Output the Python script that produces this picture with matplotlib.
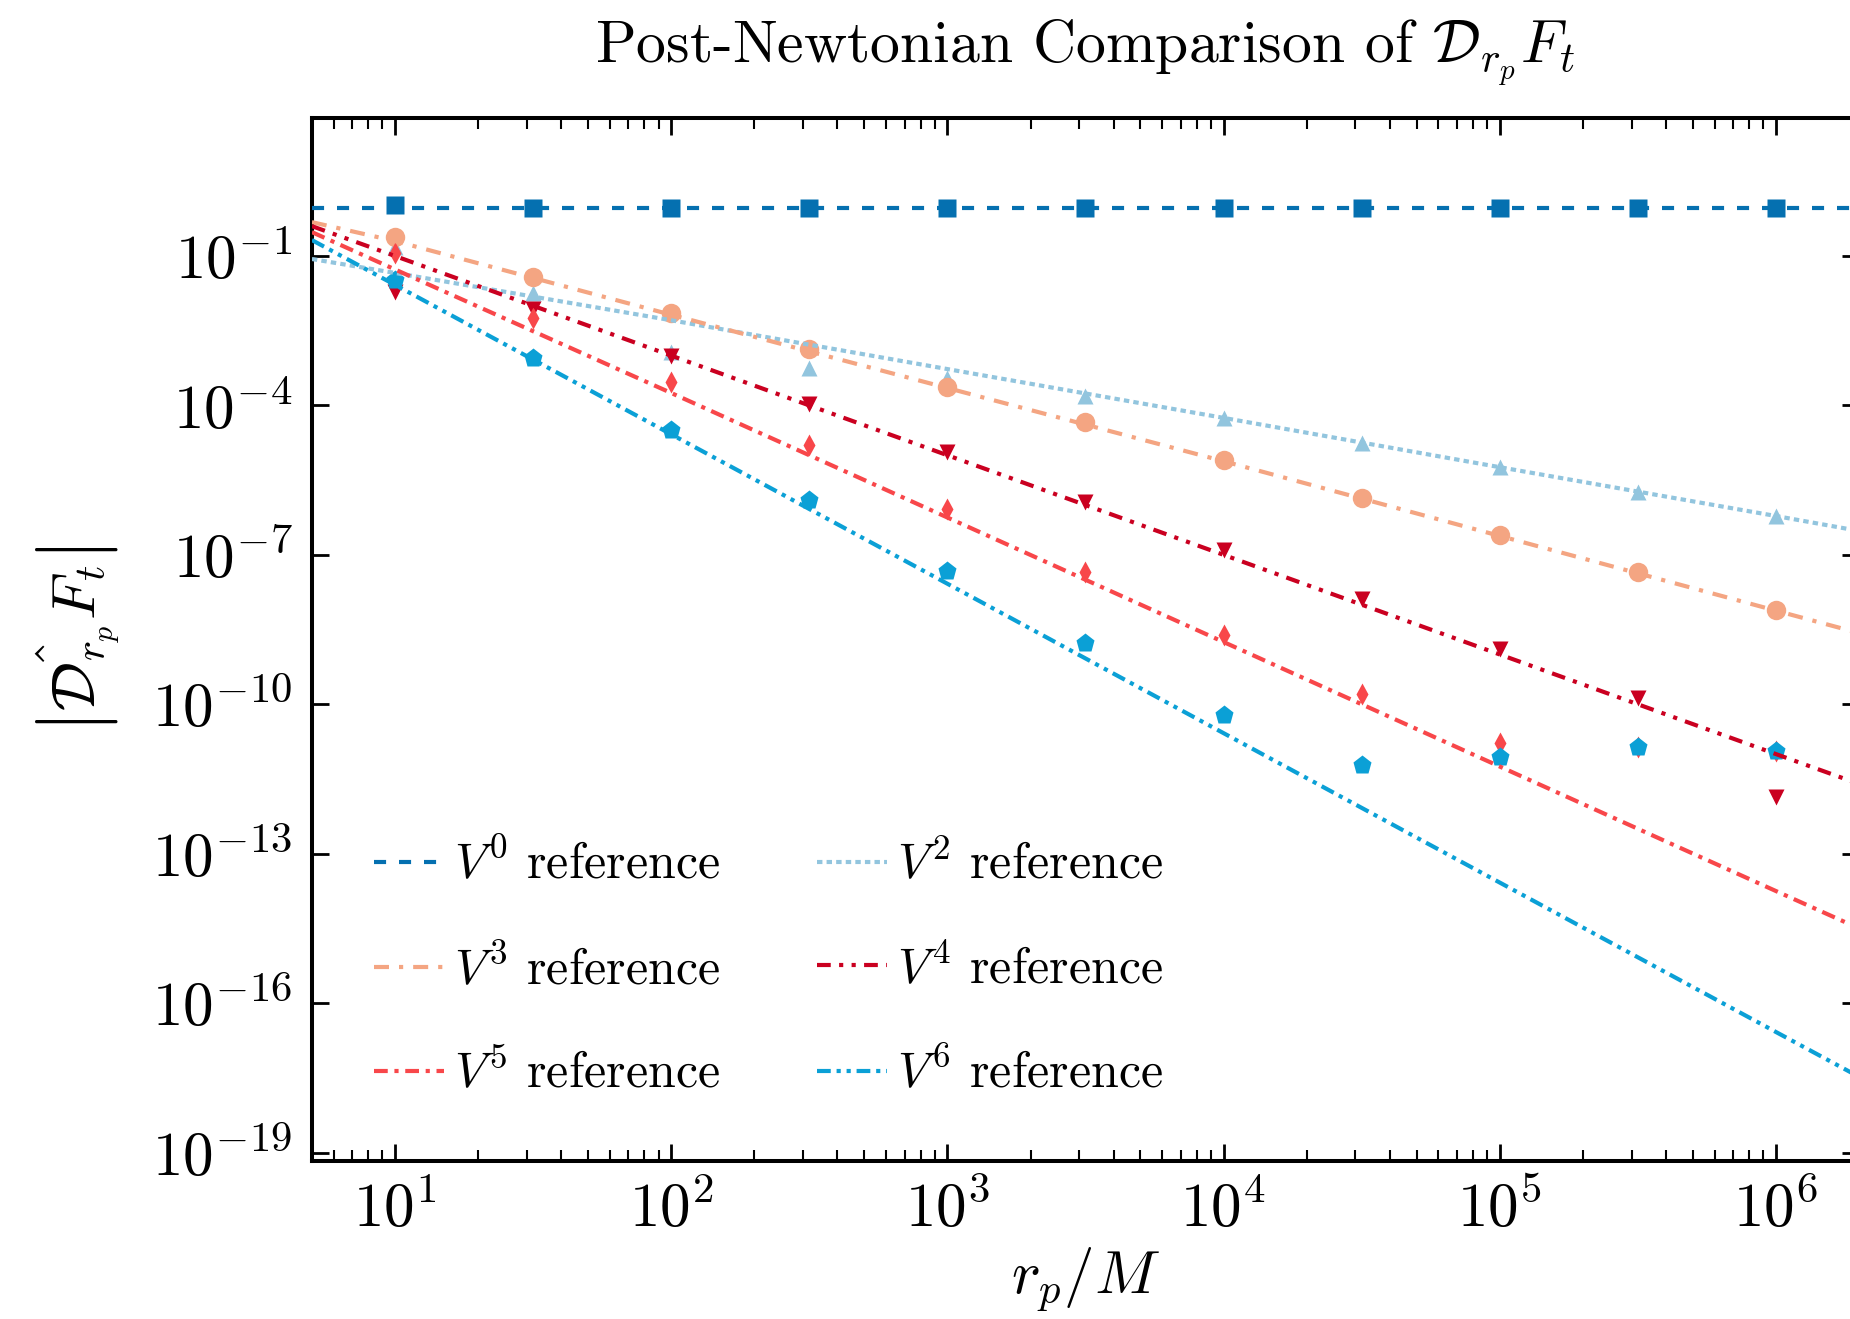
import numpy as np
import matplotlib
matplotlib.use('Agg')
import matplotlib.pyplot as plt
import matplotlib.ticker as ticker

# fonts (computer modern look)
plt.rcParams['font.family'] = 'serif'
plt.rcParams['font.serif'] = ['cmr10']
plt.rcParams['mathtext.fontset'] = 'cm'
plt.rcParams['axes.formatter.use_mathtext'] = True
plt.rcParams['axes.unicode_minus'] = False

# r_p/M where the data points sit
r_pts = [10, 31.6, 100, 316, 1e3, 3.16e3, 1e4, 3.16e4, 1e5, 3.16e5, 1e6]
# r_p/M where the reference lines are sampled
r_line = [5, 10, 100, 1e3, 1e4, 1e5, 1e6, 2e6]

# log10 of the reference curves
v0_line = [-0.04, -0.04, -0.04, -0.04, -0.04, -0.04, -0.04, -0.04]
v2_line = [-1.06, -1.34, -2.29, -3.27, -4.25, -5.24, -6.22, -6.52]
v3_line = [-0.32, -0.70, -2.18, -3.65, -5.12, -6.62, -8.12, -8.57]
v4_line = [-0.40, -1.00, -3.00, -5.00, -7.00, -9.00, -11.00, -11.60]
v5_line = [-0.52, -1.27, -3.75, -6.25, -8.75, -11.25, -13.75, -14.50]
v6_line = [-0.68, -1.58, -4.58, -7.58, -10.58, -13.58, -16.58, -17.48]

# log10 of the numerical points
v0_pts = [0.02, -0.04, -0.04, -0.04, -0.04, -0.04, -0.04, -0.04, -0.04, -0.04, -0.04]
v2_pts = [-0.82, -1.74, -2.93, -3.25, -3.45, -3.81, -4.25, -4.76, -5.24, -5.74, -6.22]
v3_pts = [-0.62, -1.42, -2.14, -2.87, -3.63, -4.34, -5.10, -5.86, -6.60, -7.35, -8.11]
v4_pts = [-1.72, -2.06, -3.00, -3.97, -4.94, -5.93, -6.90, -7.89, -8.90, -9.88, -11.86]
v5_pts = [-0.94, -2.25, -3.53, -4.79, -6.08, -7.35, -8.61, -9.80, -10.77, -10.86, -10.94]
v6_pts = [-1.48, -3.05, -4.49, -5.90, -7.33, -8.77, -10.22, -11.22, -11.06, -10.86, -10.94]

labels = [r'$V^0$ reference', r'$V^2$ reference', r'$V^3$ reference',
          r'$V^4$ reference', r'$V^5$ reference', r'$V^6$ reference']
colors = ['#0570b0', '#92c5de', '#f4a582', '#ca0020', '#f8474a', '#0ba0d6']
markers = ['s', '^', 'o', 'v', 'd', 'p']
msizes = [13, 12, 14, 12, 11, 14]
dashes = [(2.9, 3.1),
          (1.3, 1.0),
          (3.6, 2.4, 1.0, 2.4),
          (3.3, 2.0, 1.0, 2.0, 1.0, 2.0),
          (3.3, 1.6, 1.0, 1.6),
          (3.3, 1.4, 1.0, 1.4, 1.0, 1.4)]

lines = [v0_line, v2_line, v3_line, v4_line, v5_line, v6_line]
points = [v0_pts, v2_pts, v3_pts, v4_pts, v5_pts, v6_pts]

fig = plt.figure(figsize=(18.5, 13.19), dpi=100)
ax = fig.add_axes([0.1686, 0.1198, 0.8363, 0.7907])

handles = []
for i in range(6):
    ax.plot(r_pts, 10 ** np.array(points[i]), ls='none', marker=markers[i],
            ms=msizes[i], color=colors[i], mec='none', zorder=2)
    h, = ax.plot(r_line, 10 ** np.array(lines[i]), color=colors[i], lw=3,
                 dashes=dashes[i], label=labels[i], zorder=3)
    handles.append(h)

ax.set_xscale('log')
ax.set_yscale('log')
ax.set_xlim(5, 2e6)
ax.set_ylim(10 ** -19.17, 10 ** 1.77)

ax.yaxis.set_major_locator(ticker.FixedLocator([10.0 ** k for k in range(-19, 0, 3)]))
ax.yaxis.set_minor_locator(ticker.NullLocator())
ax.xaxis.set_major_locator(ticker.LogLocator(base=10, numticks=20))
ax.xaxis.set_minor_locator(ticker.LogLocator(base=10, subs=np.arange(2, 10), numticks=20))

ax.tick_params(which='both', direction='in', top=True, right=True, labelsize=44, pad=14)
ax.tick_params(which='major', length=12, width=2)
ax.tick_params(which='minor', length=8, width=1.5)
for s in ax.spines.values():
    s.set_linewidth(2.9)

ax.set_title(r'Post-Newtonian Comparison of $\mathcal{D}_{r_p}F_t$', fontsize=43, pad=40)
ax.set_xlabel(r'$r_p/M$', fontsize=44, labelpad=4)
ax.set_ylabel(r'$\left|\hat{\mathcal{D}_{r_p}}F_t\right|$', fontsize=44, labelpad=22)

# column-wise fill: V0 V3 V5 | V2 V4 V6
order = [0, 2, 4, 1, 3, 5]
ax.legend([handles[k] for k in order], [labels[k] for k in order], ncol=2,
          frameon=False, fontsize=36, loc='lower left', bbox_to_anchor=(0.04, 0.06),
          borderaxespad=0, borderpad=0, handlelength=1.4, handletextpad=0.2,
          columnspacing=1.95, labelspacing=1.12)

fig.savefig('out.png', dpi=100)
